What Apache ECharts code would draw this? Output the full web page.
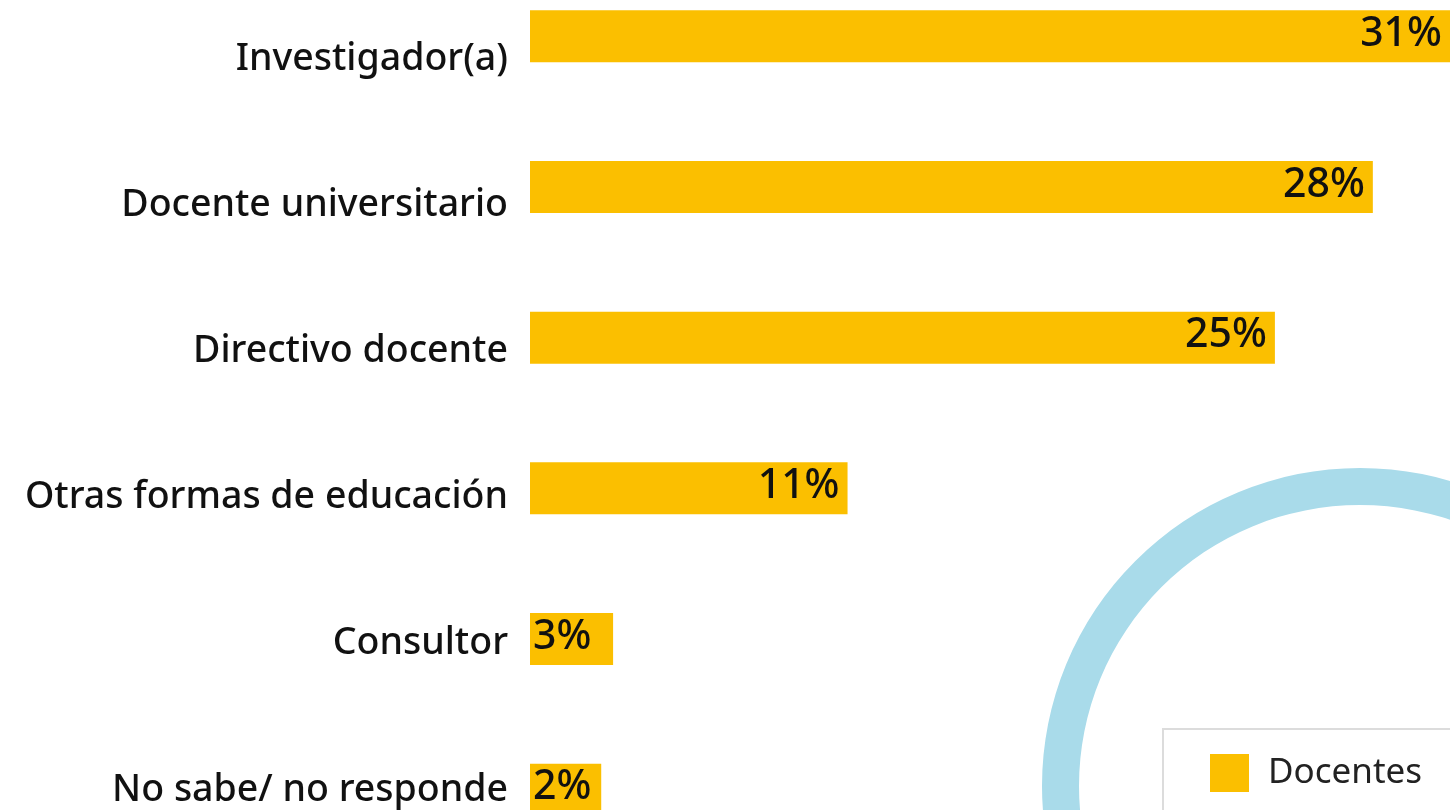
<!DOCTYPE html>
<html>
<head>
<meta charset="utf-8">
<script src="https://cdn.jsdelivr.net/npm/echarts@6/dist/echarts.min.js"></script>
<style>
  html, body { margin: 0; padding: 0; background: #fff; }
  #chart { width: 1450px; height: 810px; }
</style>
</head>
<body>
<div id="chart"></div>
<script>
// categorías (de arriba hacia abajo)
const categories = [
  'Investigador(a)',
  'Docente universitario',
  'Directivo docente',
  'Otras formas de educación',
  'Consultor',
  'No sabe/ no responde'
];
const docentes = [31, 28.4, 25.1, 10.7, 2.8, 2.4];
const seriesName = 'Docentes';

const yellow = '#FBBF00';
const font = 'Noto Sans';

const chart = echarts.init(document.getElementById('chart'));

const option = {
  backgroundColor: '#fff',
  animation: false,
  grid: [
    { left: 530, top: -39, width: 920, height: 904, outerBoundsMode: 'none', containLabel: false },
    { left: 530, top: -14, width: 920, height: 877, outerBoundsMode: 'none', containLabel: false }
  ],
  xAxis: [
    { gridIndex: 0, type: 'value', min: 0, max: 31, show: false },
    { gridIndex: 1, type: 'value', min: 0, max: 31, show: false }
  ],
  yAxis: [
    {
      gridIndex: 0,
      type: 'category',
      inverse: true,
      data: categories,
      axisLine: { show: false },
      axisTick: { show: false },
      axisLabel: { show: false }
    },
    {
      gridIndex: 1,
      type: 'category',
      inverse: true,
      data: categories,
      axisLine: { show: false },
      axisTick: { show: false },
      axisLabel: {
        margin: 22,
        color: '#111',
        fontFamily: font,
        fontWeight: 500,
        fontSize: 37.5
      }
    }
  ],
  legend: {
    data: [seriesName],
    left: 1163,
    top: 729,
    orient: 'vertical',
    padding: [25, 200, 25, 47],
    borderColor: '#dcdcdc',
    borderWidth: 2,
    itemWidth: 39,
    itemHeight: 38,
    icon: 'rect',
    selectedMode: false,
    textStyle: {
      color: '#222',
      fontFamily: font,
      fontSize: 35,
      padding: [0, 0, 0, 14]
    }
  },
  graphic: [
    {
      type: 'ring',
      z: -1,
      shape: { cx: 1360, cy: 786, r: 318, r0: 281 },
      style: { fill: '#a9dbea' },
      silent: true
    }
  ],
  series: [
    {
      name: seriesName,
      type: 'bar',
      xAxisIndex: 0,
      yAxisIndex: 0,
      barWidth: 52,
      itemStyle: { color: yellow },
      data: docentes.map(function (v) {
        const small = v < 5;
        return {
          value: v,
          label: {
            position: small ? 'insideLeft' : 'insideRight',
            distance: small ? 3 : 8
          }
        };
      }),
      label: {
        show: true,
        color: '#111',
        fontFamily: font,
        fontWeight: 500,
        fontSize: 41,
        offset: [0, -2],
        formatter: function (p) { return Math.round(p.value) + '%'; }
      }
    }
  ]
};

chart.setOption(option);
</script>
</body>
</html>
